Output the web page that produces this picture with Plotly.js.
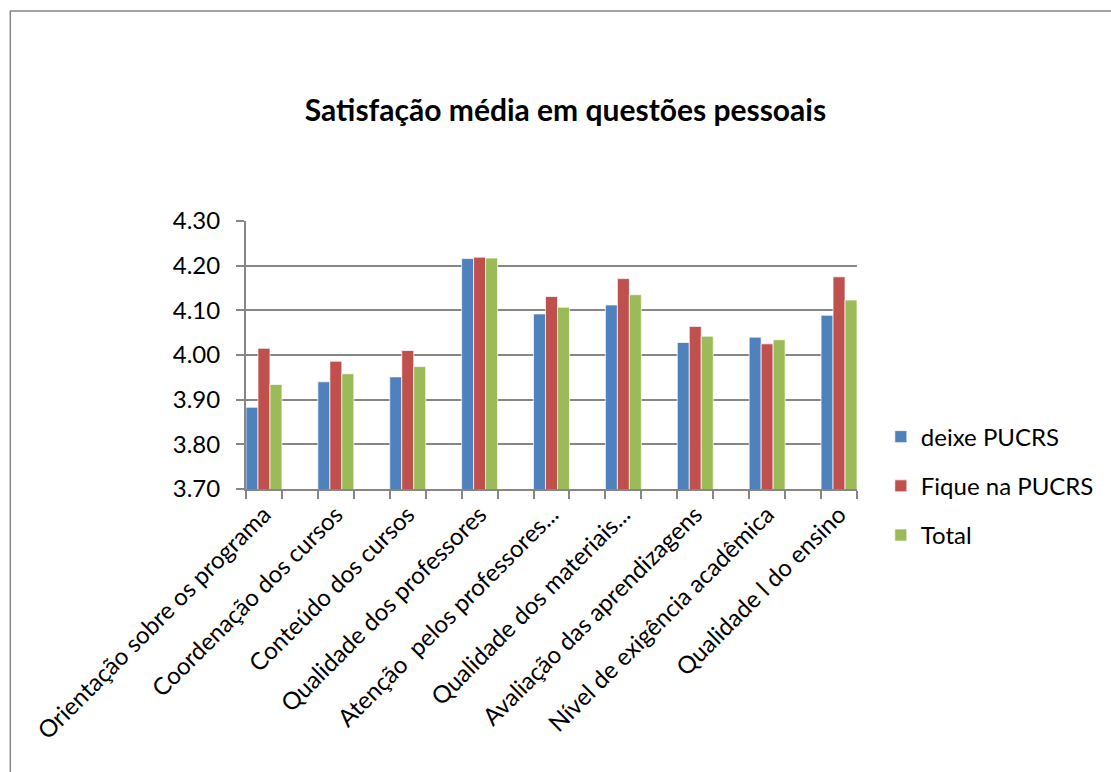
<!DOCTYPE html>
<html>
<head>
<meta charset="utf-8">
<script src="https://cdn.plot.ly/plotly-3.0.1.min.js"></script>
<style>html,body{margin:0;padding:0;background:#fff;}#chart{width:1111px;height:772px;}</style>
</head>
<body>
<div id="chart"></div>
<script>
var categories = [
  "Orientação sobre os programa",
  "Coordenação dos cursos",
  "Conteúdo dos cursos",
  "Qualidade dos professores",
  "Atenção  pelos professores...",
  "Qualidade dos materiais...",
  "Avaliação das aprendizagens",
  "Nível de exigência acadêmica",
  "Qualidade l do ensino"
];
var seriesNames = ["deixe PUCRS", "Fique na PUCRS", "Total"];
var deixe = [3.883, 3.940, 3.951, 4.216, 4.092, 4.112, 4.028, 4.040, 4.089];
var fique = [4.015, 3.986, 4.010, 4.219, 4.131, 4.171, 4.064, 4.025, 4.175];
var total = [3.934, 3.958, 3.974, 4.217, 4.107, 4.135, 4.042, 4.034, 4.123];
var yTicks = [3.70, 3.80, 3.90, 4.00, 4.10, 4.20, 4.30];

var colors = ["#4F81BD", "#C0504D", "#9BBB59"];
var idx = categories.map(function(c, i){ return i; });
var FONT = "Lato, 'Open Sans', sans-serif";

var data = [deixe, fique, total].map(function(vals, k){
  return {
    type: "bar",
    name: seriesNames[k],
    x: idx,
    y: vals,
    legendgroup: "g" + k,
    marker: {color: colors[k], line: {color: "rgba(255,255,255,0.7)", width: 1}},
    hoverinfo: "y"
  };
});

var layout = {
  width: 1111,
  height: 772,
  margin: {l: 246, r: 248, t: 221, b: 283, pad: 0},
  paper_bgcolor: "#ffffff",
  plot_bgcolor: "#ffffff",
  font: {family: FONT, size: 24, color: "#000000"},
  title: {
    text: "<b>Satisfação média em questões pessoais</b>",
    font: {family: FONT, size: 30, color: "#000000"},
    xref: "container", yref: "container",
    x: 0.509, y: 1 - 110/772, xanchor: "center", yanchor: "middle"
  },
  barmode: "group",
  bargap: 0.5,
  bargroupgap: 0,
  xaxis: {
    type: "linear",
    range: [-0.25, 8.25],
    tickmode: "array",
    tickvals: idx,
    ticktext: categories,
    tickangle: -45,
    ticks: "",
    showgrid: false,
    zeroline: false,
    showline: true,
    linecolor: "#868686",
    linewidth: 2,
    tickfont: {family: FONT, size: 24, color: "#000000"},
    minor: {tickmode: "linear", tick0: -0.25, dtick: 0.5, ticks: "outside", ticklen: 8, tickcolor: "#868686", tickwidth: 2, showgrid: false}
  },
  yaxis: {
    range: [3.7, 4.3],
    tickmode: "array",
    tickvals: yTicks,
    tickformat: ".2f",
    ticks: "outside",
    ticklen: 8,
    tickcolor: "#868686",
    tickwidth: 2,
    ticklabelstandoff: 11,
    showgrid: true,
    gridcolor: "#868686",
    gridwidth: 2,
    zeroline: false,
    showline: true,
    linecolor: "#868686",
    linewidth: 2,
    tickfont: {family: FONT, size: 24, color: "#000000"}
  },
  showlegend: true,
  legend: {
    x: 1.039, xanchor: "left",
    y: 0.011, yanchor: "middle",
    traceorder: "grouped",
    tracegroupgap: 15,
    font: {family: FONT, size: 24, color: "#000000"},
    bgcolor: "rgba(0,0,0,0)"
  },
  shapes: [{
    type: "rect", xref: "paper", yref: "paper", layer: "below",
    x0: (8 - 246)/617, x1: 1.5, y0: -2, y1: (489 - 11)/268,
    line: {color: "#868686", width: 1.5}, fillcolor: "rgba(0,0,0,0)"
  }]
};

Plotly.newPlot("chart", data, layout, {displayModeBar: false, staticPlot: true});
</script>
</body>
</html>
